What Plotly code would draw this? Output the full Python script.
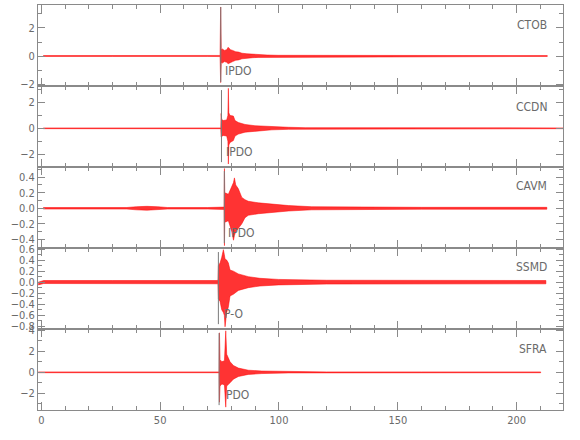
import plotly.graph_objects as go
from plotly.subplots import make_subplots

# ---------------- data ----------------
STATIONS = ["CTOB", "CCDN", "CAVM", "SSMD", "SFRA"]
PICK_TIMES = [75.5, 75.8, 77.0, 74.5, 74.8]
PICK_LABELS = ["IPDO", "IPDO", "IPDO", "P-O", "PDO"]

# envelope of each trace: time (s), upper and lower amplitude
CTOB_T = [0.8, 30, 36, 44, 50, 55, 70, 75.2, 75.45, 75.7, 76.2, 77.0, 78.0, 78.6, 79.0, 79.6,
          80.5, 81.8, 83.0, 84.4, 86.5, 89.0, 91.2, 95.0, 99.6, 105, 115, 130, 160, 190, 212.9]
CTOB_UP = [0.03, 0.03, 0.06, 0.06, 0.07, 0.04, 0.03, 0.04, 3.5, 0.45, 0.5, 0.4, 0.45, 0.62, 0.55, 0.45,
           0.4, 0.3, 0.28, 0.2, 0.16, 0.12, 0.1, 0.07, 0.05, 0.05, 0.04, 0.04, 0.03, 0.04, 0.03]
CTOB_LO = [-0.03, -0.03, -0.06, -0.06, -0.07, -0.04, -0.03, -0.04, -1.9, -0.45, -0.5, -0.4, -0.45, -0.55, -0.5, -0.45,
           -0.4, -0.3, -0.28, -0.2, -0.16, -0.12, -0.1, -0.07, -0.05, -0.05, -0.04, -0.04, -0.03, -0.04, -0.03]

CCDN_T = [0.8, 40, 75.5, 75.65, 75.9, 76.5, 78.0, 78.5, 78.7, 78.9, 79.4, 80.8, 81.5, 82.9, 85.7,
          89.9, 93.5, 97.0, 104.0, 111, 130, 160, 200, 219.5]
CCDN_UP = [0.03, 0.03, 0.03, 1.15, 0.7, 0.6, 0.65, 1.0, 3.1, 1.2, 1.0, 0.95, 0.6, 0.45, 0.3,
           0.2, 0.16, 0.12, 0.08, 0.05, 0.04, 0.03, 0.03, 0.03]
CCDN_LO = [-0.03, -0.03, -0.03, -0.67, -0.6, -0.55, -0.6, -1.0, -2.77, -1.3, -1.1, -0.95, -0.6, -0.45, -0.3,
           -0.2, -0.16, -0.12, -0.08, -0.05, -0.04, -0.03, -0.03, -0.03]

CAVM_T = [0.8, 36, 40, 44.4, 49, 53, 70, 76.9, 77.05, 77.2, 78.7, 80.15, 80.85, 81.25, 81.8, 82.9,
          84.35, 85.7, 87.1, 91.3, 97.0, 104.0, 113.8, 130, 160, 212.7]
CAVM_UP = [0.01, 0.01, 0.02, 0.025, 0.02, 0.01, 0.01, 0.015, 0.51, 0.2, 0.18, 0.28, 0.33, 0.39, 0.3, 0.25,
           0.14, 0.11, 0.09, 0.07, 0.05, 0.035, 0.02, 0.015, 0.012, 0.012]
CAVM_LO = [-0.01, -0.01, -0.02, -0.025, -0.02, -0.01, -0.01, -0.015, -0.48, -0.18, -0.16, -0.3, -0.41, -0.35, -0.3, -0.25,
           -0.2, -0.12, -0.09, -0.07, -0.05, -0.035, -0.02, -0.015, -0.012, -0.012]

SSMD_T = [-1.3, 1.0, 30, 60, 74.3, 74.5, 75.2, 75.9, 76.6, 77.0, 77.3, 78.0, 78.7, 79.4, 80.8,
          82.9, 87.1, 92, 99.8, 120, 160, 212.3]
SSMD_UP = [0.0, 0.03, 0.03, 0.03, 0.03, 0.3, 0.35, 0.45, 0.59, 0.5, 0.42, 0.4, 0.35, 0.22, 0.2,
           0.15, 0.1, 0.07, 0.05, 0.035, 0.03, 0.03]
SSMD_LO = [-0.05, -0.025, -0.03, -0.03, -0.03, -0.3, -0.35, -0.5, -0.55, -0.6, -0.81, -0.55, -0.45, -0.25, -0.22,
           -0.15, -0.1, -0.07, -0.05, -0.035, -0.03, -0.03]

SFRA_T = [-1.3, 30, 60, 74.8, 74.95, 75.2, 76.0, 77.05, 77.6, 78.0, 79.4, 80.8, 82.9, 87.1,
          92.8, 104, 120, 160, 210.1]
SFRA_UP = [0.04, 0.04, 0.04, 0.04, 3.74, 1.2, 1.0, 1.1, 3.93, 1.7, 1.0, 0.65, 0.4, 0.2,
           0.12, 0.06, 0.04, 0.04, 0.04]
SFRA_LO = [-0.04, -0.04, -0.04, -0.04, -2.83, -1.3, -1.1, -1.2, -3.3, -1.3, -1.0, -0.65, -0.4, -0.2,
           -0.12, -0.06, -0.04, -0.04, -0.04]

X_TICKS = [0, 50, 100, 150, 200]

# ---------------- layout settings ----------------
TRACES = [(CTOB_T, CTOB_UP, CTOB_LO), (CCDN_T, CCDN_UP, CCDN_LO), (CAVM_T, CAVM_UP, CAVM_LO),
          (SSMD_T, SSMD_UP, SSMD_LO), (SFRA_T, SFRA_UP, SFRA_LO)]
Y_RANGES = [(-2.14, 3.64), (-3.0, 3.28), (-0.51, 0.53), (-0.85, 0.62), (-3.57, 4.1)]
Y_DTICK = [2, 2, 0.2, 0.2, 2]
Y_MINOR = [1, 1, 0.1, 0.1, 1]
Y_FMT = ["", "", ".1f", ".1f", ""]
STATION_Y = [2.2, 1.64, 0.28, 0.27, 2.19]
LABEL_POS = [(77.3, -1.1), (77.6, -1.82), (78.5, -0.32), (77.0, -0.585), (77.6, -2.16)]
PICK_SPAN = [(0.05, 0.975), (0.06, 0.95), (0.06, 0.95), (0.06, 0.95), (0.06, 0.95)]
X_RANGE = (-1.4, 219.5)

FONT = "Liberation Sans Narrow, DejaVu Sans Condensed, Arial Narrow, sans-serif"
AXC = "#8a8a8a"
TXC = "#6a6a6a"

fig = make_subplots(rows=5, cols=1, shared_xaxes=True, vertical_spacing=0)

for i, (t, up, lo) in enumerate(TRACES):
    r = i + 1
    fig.add_trace(go.Scatter(
        x=list(t) + list(t)[::-1], y=list(up) + list(lo)[::-1],
        mode="lines", fill="toself", fillcolor="rgba(255,0,0,0.8)",
        line=dict(color="#ff0000", width=0.5), hoverinfo="skip", showlegend=False),
        row=r, col=1)

    fig.update_xaxes(range=list(X_RANGE), tickvals=X_TICKS, ticks="inside", ticklen=8,
                     tickcolor=AXC, showline=True, linecolor=AXC, linewidth=1, mirror="allticks",
                     minor=dict(dtick=10, tick0=0, ticks="inside", ticklen=4, tickcolor=AXC),
                     showgrid=False, zeroline=False, automargin=False,
                     tickfont=dict(family=FONT, size=11, color=TXC),
                     row=r, col=1)
    fig.update_yaxes(range=list(Y_RANGES[i]), dtick=Y_DTICK[i], tick0=0, tickformat=Y_FMT[i],
                     ticks="inside", ticklen=7, tickcolor=AXC, showline=True, linecolor=AXC,
                     linewidth=1, mirror="allticks", automargin=False,
                     minor=dict(dtick=Y_MINOR[i], tick0=0, ticks="inside", ticklen=4, tickcolor=AXC),
                     showgrid=False, zeroline=False,
                     tickfont=dict(family=FONT, size=11, color=TXC),
                     row=r, col=1)

    xr = "x" if r == 1 else f"x{r}"
    yr = "y" if r == 1 else f"y{r}"
    fig.add_shape(type="line", xref=xr, yref=f"{yr} domain",
                  x0=PICK_TIMES[i], x1=PICK_TIMES[i], y0=PICK_SPAN[i][0], y1=PICK_SPAN[i][1],
                  line=dict(color="#7a7a7a", width=1))
    fig.add_annotation(xref=xr, yref=yr, x=213.6, y=STATION_Y[i], text=STATIONS[i],
                       showarrow=False, xanchor="right", yanchor="middle",
                       font=dict(family=FONT, size=12, color=TXC))
    fig.add_annotation(xref=xr, yref=yr, x=LABEL_POS[i][0], y=LABEL_POS[i][1], text=PICK_LABELS[i],
                       showarrow=False, xanchor="left", yanchor="middle", xshift=-2,
                       font=dict(family=FONT, size=12, color=TXC))

fig.update_layout(width=580, height=440, margin=dict(l=38, r=17, t=5, b=30, autoexpand=False),
                  paper_bgcolor="white", plot_bgcolor="white", showlegend=False)

fig.write_html("out.html", config={"displayModeBar": False},
               post_script="document.body.style.margin='0';document.body.style.padding='0';")
